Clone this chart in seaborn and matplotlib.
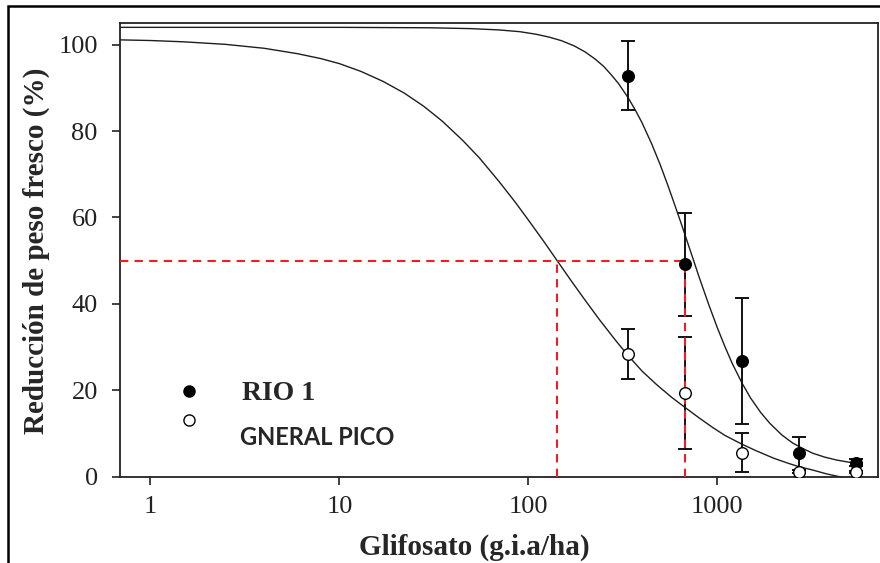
import numpy as np
import pandas as pd
import matplotlib.pyplot as plt
from matplotlib.lines import Line2D
from matplotlib.patches import Rectangle
import seaborn as sns

# Observed means and error bars (glifosato dose, % reduction of fresh weight)
doses = [337.5, 675, 1350, 2700, 5400]
rio1_mean = [92.8, 49.1, 26.7, 5.4, 3.2]
rio1_err = [8.0, 12.0, 14.6, 3.8, 0.8]
pico_mean = [28.3, 19.4, 5.5, 1.1, 1.0]
pico_err = [5.8, 13.0, 4.5, 0.3, 0.3]

# Fitted dose-response curves
rio1_dose = [0.69, 10, 30, 50, 70, 90, 110, 130, 150, 175, 200, 225, 250, 275,
             300, 337.5, 370, 400, 450, 500, 550, 600, 650, 700, 750, 800, 900,
             1000, 1100, 1200, 1350, 1500, 1700, 1900, 2200, 2500, 2800, 3200,
             3700, 4300, 5000, 5800]
rio1_fit = [104.0, 104.0, 103.9, 103.7, 103.4, 103.0, 102.4, 101.7, 100.9, 99.7,
            98.3, 96.7, 95.0, 93.0, 91.0, 87.7, 84.7, 81.9, 77.0, 72.1, 67.2,
            62.5, 58.1, 53.9, 50.0, 46.3, 39.9, 34.5, 30.0, 26.2, 21.7, 18.2,
            14.8, 12.3, 9.6, 7.8, 6.6, 5.4, 4.5, 3.8, 3.3, 2.9]
pico_dose = [0.69, 1, 1.5, 2.5, 4, 6, 8, 10, 13, 17, 22, 28, 35, 45, 55, 70, 85,
             100, 120, 142, 170, 200, 240, 290, 337.5, 400, 480, 575, 675, 800,
             950, 1100, 1350, 1600, 2000, 2400, 2700, 3200, 3800, 4500, 5200, 5800]
pico_fit = [101.1, 100.95, 100.65, 100.06, 99.15, 97.9, 96.75, 95.6, 93.8, 91.5,
            88.8, 85.7, 82.3, 77.8, 73.8, 68.3, 63.6, 59.4, 54.6, 50.0, 45.1,
            40.8, 36.1, 31.5, 28.0, 24.4, 21.2, 18.3, 16.0, 13.6, 11.3, 9.5, 7.5,
            6.0, 4.2, 3.0, 2.3, 1.5, 0.6, -0.1, -0.7, -1.0]

# ED50 reference lines
ed50_doses = [142, 675]
ed50_level = 50

series = ['RIO 1', 'GNERAL PICO']

sns.set_theme(style='ticks')
plt.rcParams['font.family'] = ['Liberation Serif', 'DejaVu Serif']

fig = plt.figure(figsize=(8.8, 5.63), dpi=100)
ax = fig.add_axes([0.1364, 0.1536, 0.8614, 0.8055])
ax.set_xscale('log')
ax.set_xlim(0.69, 7100)
ax.set_ylim(0, 105)

fits = pd.DataFrame({
    'dose': rio1_dose + pico_dose,
    'reduccion': rio1_fit + pico_fit,
    'biotipo': [series[0]] * len(rio1_dose) + [series[1]] * len(pico_dose),
})
sns.lineplot(data=fits, x='dose', y='reduccion', hue='biotipo',
             palette=['#1e1e1e', '#1e1e1e'], linewidth=1.0, sort=False,
             estimator=None, legend=False, ax=ax, zorder=2)

ax.errorbar(doses, rio1_mean, yerr=rio1_err, fmt='none', ecolor='#111111',
            elinewidth=1.4, capsize=5, capthick=1.4, zorder=3)
ax.errorbar(doses, pico_mean, yerr=pico_err, fmt='none', ecolor='#111111',
            elinewidth=1.4, capsize=5, capthick=1.4, zorder=3)

red = '#f01e1e'
ax.hlines(ed50_level, ax.get_xlim()[0], max(ed50_doses), colors=red,
          linestyles=(0, (4, 3)), linewidth=1.5, zorder=4)
ax.vlines(ed50_doses, 0, ed50_level, colors=red,
          linestyles=(0, (4, 3)), linewidth=1.5, zorder=4)

sns.scatterplot(x=doses, y=rio1_mean, color='black', edgecolor='black',
                s=70, linewidth=1, ax=ax, zorder=5)
sns.scatterplot(x=doses, y=pico_mean, color='white', edgecolor='black',
                s=70, linewidth=1, ax=ax, zorder=5)

ax.set_xticks([1, 10, 100, 1000])
ax.set_xticklabels(['1', '10', '100', '1000'])
ax.xaxis.set_minor_locator(plt.NullLocator())
ax.set_yticks([0, 20, 40, 60, 80, 100])
ax.tick_params(axis='both', direction='out', length=6, width=1.2,
               labelsize=19, labelcolor='#222222', color='#222222')
ax.tick_params(axis='x', pad=8)
ax.tick_params(axis='y', pad=10)
for side in ['left', 'right', 'top', 'bottom']:
    ax.spines[side].set_visible(True)
    ax.spines[side].set_linewidth(1.3)
    ax.spines[side].set_color('#222222')

ax.set_xlabel('Glifosato (g.i.a/ha)', fontsize=21, fontweight='bold')
ax.set_ylabel('Reducción de peso fresco (%)', fontsize=21, fontweight='bold')
ax.xaxis.set_label_coords(0.468, -0.125)
ax.yaxis.set_label_coords(-0.092, 0.497)

handles = [
    Line2D([], [], marker='o', ls='', mfc='black', mec='black', ms=8),
    Line2D([], [], marker='o', ls='', mfc='white', mec='black', ms=8, mew=1),
]
leg = ax.legend(handles, [series[0], ' '], loc='center left',
                bbox_to_anchor=(0.0543, 0.150), frameon=False, borderpad=0,
                handlelength=1.0, handletextpad=1.4, labelspacing=0.15,
                prop={'weight': 'bold', 'size': 20})
ax.text(0.158, 0.087, series[1], transform=ax.transAxes, ha='left',
        va='center', fontsize=17, fontweight='bold',
        family=['Lato', 'DejaVu Sans'])

# outer frame of the original figure
fig.patches.append(Rectangle((8 / 880, -0.1), 1.2, 1.1 - 6 / 563,
                             transform=fig.transFigure, fill=False,
                             edgecolor='black', linewidth=1.8))

fig.savefig('out.png', dpi=100)
